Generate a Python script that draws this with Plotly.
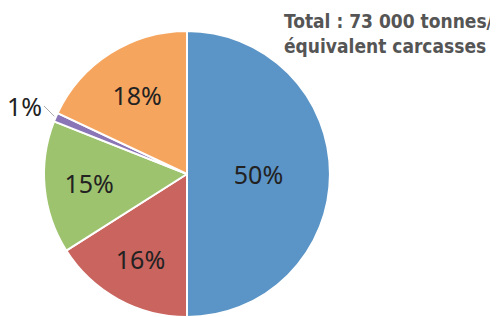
import plotly.graph_objects as go

labels = ["A", "B", "C", "D", "E"]
values = [50, 16, 15, 1, 18]
colors = ["#5b94c6", "#c9645f", "#9dc36f", "#8a76b6", "#f6a55f"]
text_pos = ["inside", "inside", "inside", "none", "inside"]
title_text = "<b>Total : 73 000 tonnes/<br>équivalent carcasses</b>"

# the page body adds an 8px margin, so the figure is 8px smaller
W, H = 490, 309
cx, cy, r = 179, 166, 143
fig = go.Figure(go.Pie(
    labels=labels, values=values, sort=False, direction="clockwise", rotation=0,
    marker=dict(colors=colors, line=dict(color="white", width=2)),
    texttemplate="%{value}%", textposition=text_pos, insidetextorientation="horizontal",
    textfont=dict(family="Noto Sans, sans-serif", size=25, color="#222222"),
    domain=dict(x=[(cx - r) / W, (cx + r) / W], y=[(H - cy - r) / H, (H - cy + r) / H]),
    showlegend=False, hoverinfo="skip",
))
fig.add_annotation(text=f"{values[3]}%", xref="paper", yref="paper",
                   x=47 / W, y=1 - 109 / H, ax=-11, ay=-11,
                   showarrow=True, arrowhead=0, arrowwidth=1, arrowcolor="#aaaaaa",
                   standoff=1, xanchor="right", yanchor="middle",
                   font=dict(family="Noto Sans, sans-serif", size=25, color="#222222"))
fig.add_annotation(text=title_text, xref="paper", yref="paper", x=1, y=1,
                   xanchor="right", yanchor="top", align="left", showarrow=False,
                   font=dict(family="DejaVu Sans Condensed, sans-serif", size=19, color="#555555"),
                   xshift=-2, yshift=0)
fig.update_layout(width=W, height=H, margin=dict(l=0, r=0, t=0, b=0),
                  paper_bgcolor="white", plot_bgcolor="white")
fig.write_html("out.html")
